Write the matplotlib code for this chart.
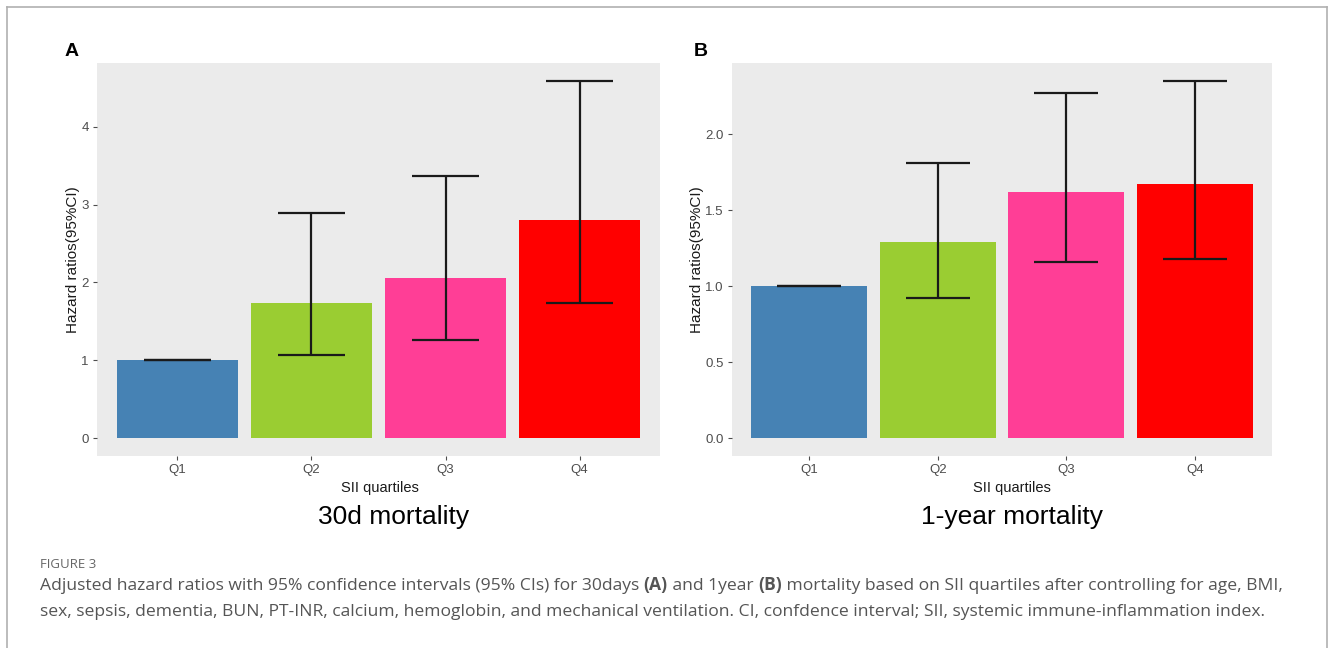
import matplotlib
matplotlib.use("Agg")
import matplotlib.pyplot as plt
from matplotlib.lines import Line2D

# ---- data ----
quartiles = ["Q1", "Q2", "Q3", "Q4"]
bar_colors = ["#4682B4", "#9ACD32", "#FF3E96", "#FF0000"]

hr_30d = [1.00, 1.73, 2.06, 2.80]
lo_30d = [1.00, 1.07, 1.26, 1.73]
hi_30d = [1.00, 2.89, 3.37, 4.59]
yticks_30d = [0, 1, 2, 3, 4]
yticklabels_30d = ["0", "1", "2", "3", "4"]

hr_1y = [1.00, 1.29, 1.62, 1.67]
lo_1y = [1.00, 0.92, 1.16, 1.18]
hi_1y = [1.00, 1.81, 2.27, 2.35]
yticks_1y = [0.0, 0.5, 1.0, 1.5, 2.0]
yticklabels_1y = ["0.0", "0.5", "1.0", "1.5", "2.0"]

W, H = 1330, 648
fig = plt.figure(figsize=(W / 100, H / 100), dpi=100)
fig.patch.set_facecolor("white")

# outer frame (left, top, right)
frame_col = "#B0B0B0"
for xs, ys in [([7, 7], [0, 641]), ([7, 1327], [641, 641]), ([1327, 1327], [641, 0])]:
    fig.add_artist(Line2D([x / W for x in xs], [y / H for y in ys],
                          transform=fig.transFigure, color=frame_col, lw=1.2))

SANS = ["Liberation Sans", "DejaVu Sans"]


def panel(rect, hr, lo, hi, yticks, ylabels, letter, letter_x, ylab_x, title, title_x, xlab_x):
    x0, y0, x1, y1 = rect
    ax = fig.add_axes([x0 / W, 1 - y1 / H, (x1 - x0) / W, (y1 - y0) / H])
    ax.set_facecolor("#EBEBEB")
    pos = list(range(1, len(quartiles) + 1))
    ax.bar(pos, hr, width=0.9, color=bar_colors, edgecolor="none", zorder=2)
    ax.vlines(pos, lo, hi, color="#1A1A1A", lw=1.6, zorder=3)
    ax.hlines(lo, [p - 0.25 for p in pos], [p + 0.25 for p in pos], color="#1A1A1A", lw=1.6, zorder=3)
    ax.hlines(hi, [p - 0.25 for p in pos], [p + 0.25 for p in pos], color="#1A1A1A", lw=1.6, zorder=3)
    top = max(hi)
    ax.set_xlim(0.4, len(quartiles) + 0.6)
    ax.set_ylim(-0.05 * top, 1.05 * top)
    ax.set_xticks(pos)
    ax.set_xticklabels(quartiles, family=SANS, fontsize=9.5, color="#4D4D4D")
    ax.set_yticks(yticks)
    ax.set_yticklabels(ylabels, family=SANS, fontsize=9.5, color="#4D4D4D")
    ax.tick_params(length=3, width=0.8, color="#4D4D4D", pad=3)
    ax.grid(False)
    for s in ax.spines.values():
        s.set_visible(False)
    fig.text(letter_x / W, 1 - 52 / H, letter, family=SANS, fontsize=14, fontweight="bold",
             ha="center", va="center", color="black")
    fig.text(ylab_x / W, 1 - 260 / H, "Hazard ratios(95%CI)", family=SANS, fontsize=11,
             rotation=90, ha="center", va="center", color="#1A1A1A")
    fig.text(xlab_x / W, 1 - 488 / H, "SII quartiles", family=SANS, fontsize=10.5,
             ha="center", va="center", color="#1A1A1A")
    fig.text(title_x / W, 1 - 517 / H, title, family=SANS, fontsize=19,
             ha="center", va="center", color="black")
    return ax


panel((97, 63, 660, 456), hr_30d, lo_30d, hi_30d, yticks_30d, yticklabels_30d,
      "A", 72, 73, "30d mortality", 394, 380)
panel((732, 63, 1272, 456), hr_1y, lo_1y, hi_1y, yticks_1y, yticklabels_1y,
      "B", 701, 697, "1-year mortality", 1012, 1012)

# ---- caption ----
CAP = ["Open Sans", "DejaVu Sans"]
cap_col = "#555555"
CAP_SIZE = 12.6
fig.text(40 / W, 1 - 565 / H, "FIGURE 3", family=CAP, fontsize=9.5, color="#666666",
         ha="left", va="center")


def rich_line(x, y, segments, size=CAP_SIZE):
    prev = None
    for txt, bold in segments:
        kw = dict(family=CAP, fontsize=size, color=cap_col,
                  fontweight="bold" if bold else "normal")
        if prev is None:
            prev = fig.text(x / W, 1 - y / H, txt, ha="left", va="baseline", **kw)
        else:
            prev = fig.add_artist(matplotlib.text.Annotation(
                txt, xy=(1, 0), xycoords=prev, va="bottom", ha="left",
                annotation_clip=False, **kw))
    return prev


rich_line(40, 590, [("Adjusted hazard ratios with 95% confidence intervals (95% CIs) for 30days ", False),
                    ("(A)", True), (" and 1year ", False), ("(B)", True),
                    (" mortality based on SII quartiles after controlling for age, BMI,", False)])
fig.text(40 / W, 1 - 616 / H,
         "sex, sepsis, dementia, BUN, PT-INR, calcium, hemoglobin, and mechanical ventilation. "
         "CI, confdence interval; SII, systemic immune-inflammation index.",
         family=CAP, fontsize=CAP_SIZE, color=cap_col, ha="left", va="baseline")

fig.savefig("out.png", dpi=100, facecolor="white")
